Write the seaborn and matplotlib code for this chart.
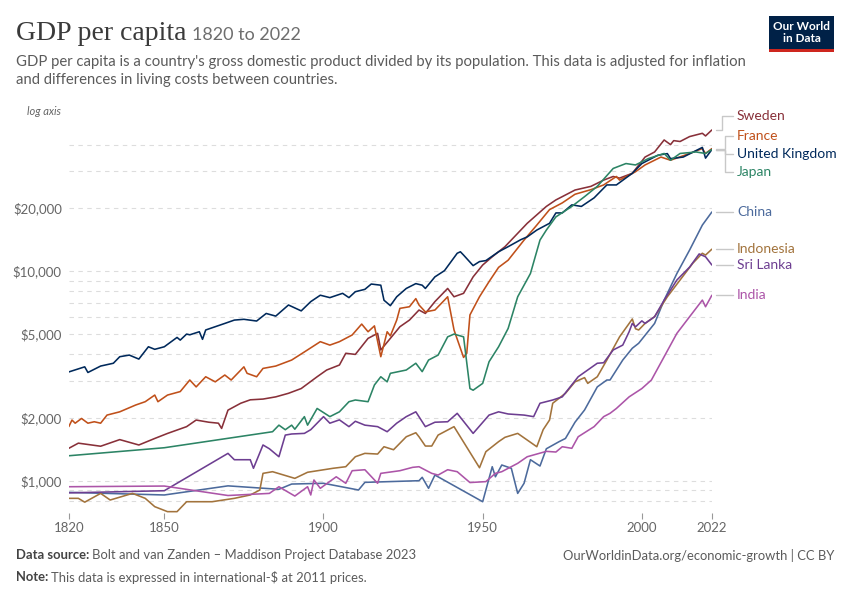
import matplotlib.pyplot as plt
import numpy as np
import pandas as pd
import seaborn as sns
from matplotlib.lines import Line2D
from matplotlib.patches import Rectangle
from matplotlib.ticker import NullFormatter

# --------------------------------------------------------------------------- #
# Data (GDP per capita, international-$ at 2011 prices)
# --------------------------------------------------------------------------- #
uk_years = [1820, 1825, 1826, 1830, 1834, 1836, 1839, 1842, 1845, 1847, 1850, 1854, 1855,
            1857, 1858, 1861, 1862, 1863, 1869, 1872, 1875, 1879, 1882, 1885, 1889, 1893,
            1896, 1899, 1902, 1906, 1908, 1910, 1913, 1915, 1918, 1919, 1921, 1923, 1926,
            1929, 1931, 1932, 1935, 1938, 1942, 1943, 1944, 1947, 1949, 1951, 1955, 1958,
            1962, 1964, 1967, 1971, 1973, 1975, 1978, 1981, 1985, 1989, 1992, 1997, 2000,
            2005, 2008, 2009, 2013, 2019, 2020, 2022]
uk_gdp = [3300, 3490, 3280, 3520, 3630, 3900, 3970, 3800, 4350, 4230, 4350, 4820, 4680,
          5000, 4960, 5130, 4720, 5230, 5620, 5830, 5880, 5770, 6270, 6090, 6880, 6450,
          7140, 7660, 7460, 7820, 7460, 7960, 8170, 8660, 8550, 7250, 6830, 7530, 8250,
          8700, 8550, 8250, 9370, 10030, 12140, 12340, 11900, 10600, 11080, 11200, 12340, 13050,
          14100, 14530, 15660, 16870, 18900, 18900, 20650, 20300, 22300, 25700, 25700, 29200, 32500,
          35600, 36250, 34300, 34900, 38800, 34500, 37900]

france_years = [1820, 1821, 1822, 1824, 1826, 1828, 1830, 1832, 1836, 1841, 1844, 1847, 1848,
                1851, 1855, 1858, 1860, 1863, 1866, 1869, 1871, 1875, 1876, 1879, 1881, 1885,
                1890, 1894, 1899, 1902, 1905, 1909, 1912, 1914, 1916, 1918, 1920, 1921, 1923,
                1924, 1927, 1929, 1930, 1932, 1935, 1938, 1939, 1941, 1944, 1945, 1946, 1949,
                1952, 1955, 1958, 1963, 1967, 1971, 1975, 1979, 1984, 1988, 1992, 1993, 1998,
                2001, 2006, 2009, 2015, 2019, 2020, 2022]
france_gdp = [1810, 1946, 1880, 1980, 1880, 1910, 1880, 2055, 2130, 2295, 2380, 2560, 2380,
              2560, 2660, 3020, 2800, 3130, 2960, 3190, 3020, 3490, 3250, 3130, 3430, 3520,
              3760, 4110, 4600, 4430, 4600, 4950, 5580, 5130, 5470, 3900, 5130, 4900, 5830,
              6630, 6750, 7380, 6880, 6380, 6510, 7260, 7530, 5230, 3870, 4050, 6170, 7530,
              8890, 10400, 11250, 14030, 16540, 19600, 21100, 23200, 24400, 25700, 28200, 27100, 29700,
              32000, 34900, 33700, 36300, 38300, 36300, 38300]

sweden_years = [1820, 1823, 1830, 1836, 1842, 1847, 1851, 1857, 1860, 1864, 1867, 1868, 1870,
                1874, 1877, 1881, 1885, 1889, 1893, 1898, 1901, 1905, 1907, 1910, 1914, 1917,
                1918, 1921, 1924, 1927, 1930, 1932, 1935, 1939, 1941, 1944, 1947, 1950, 1953,
                1957, 1964, 1970, 1973, 1975, 1979, 1984, 1988, 1991, 1993, 1997, 2001, 2004,
                2007, 2009, 2010, 2012, 2015, 2019, 2020, 2022]
sweden_gdp = [1427, 1510, 1460, 1570, 1480, 1590, 1680, 1810, 1946, 1900, 1880, 1775, 2170,
              2340, 2430, 2450, 2510, 2610, 2750, 3130, 3370, 3560, 4050, 4000, 4770, 5040,
              4200, 4770, 5420, 5830, 6510, 6270, 7140, 8250, 7530, 7820, 9370, 10670, 11680,
              13050, 16870, 20300, 21800, 22600, 24300, 25300, 27100, 28200, 27700, 29200, 34900, 36900,
              42100, 40000, 41800, 41400, 43700, 45300, 44000, 47000]

japan_years = [1820, 1850, 1884, 1886, 1888, 1890, 1891, 1894, 1895, 1898, 1902, 1905, 1908,
               1910, 1914, 1916, 1918, 1920, 1921, 1926, 1929, 1931, 1933, 1936, 1939, 1941,
               1944, 1946, 1947, 1950, 1952, 1955, 1958, 1961, 1965, 1968, 1970, 1973, 1978,
               1982, 1986, 1991, 1995, 1998, 2002, 2007, 2009, 2012, 2017, 2020, 2022]
japan_gdp = [1315, 1436, 1712, 1840, 1750, 1840, 1760, 2020, 1840, 2210, 2020, 2130, 2380,
             2425, 2380, 2860, 3130, 2960, 3250, 3370, 3630, 3310, 3760, 3970, 4850, 5000,
             4850, 2750, 2700, 2910, 3690, 4350, 5320, 7530, 9720, 14030, 15660, 18100, 20300,
             22600, 25300, 30800, 32500, 32000, 34300, 36300, 33700, 36300, 36900, 36300, 37900]

china_years = [1820, 1850, 1870, 1886, 1890, 1900, 1911, 1913, 1930, 1931, 1933, 1935, 1950,
               1953, 1954, 1956, 1959, 1961, 1963, 1965, 1968, 1970, 1974, 1976, 1979, 1982,
               1986, 1989, 1990, 1994, 1997, 1999, 2004, 2007, 2011, 2015, 2019, 2022]
china_gdp = [880, 855, 945, 910, 964, 972, 903, 982, 1000, 1038, 920, 1064, 794,
             1166, 1044, 1188, 1146, 870, 972, 1259, 1175, 1420, 1535, 1590, 1900, 2173,
             2800, 3020, 3020, 3760, 4280, 4520, 5620, 7260, 9720, 12580, 16540, 19100]

indonesia_years = [1820, 1823, 1825, 1830, 1833, 1840, 1844, 1847, 1851, 1854, 1857, 1865,
                   1872, 1877, 1880, 1881, 1884, 1891, 1895, 1903, 1907, 1910, 1913, 1917,
                   1919, 1922, 1926, 1929, 1930, 1932, 1934, 1936, 1941, 1949, 1951, 1955,
                   1957, 1961, 1967, 1969, 1971, 1972, 1976, 1979, 1982, 1983, 1986, 1989,
                   1993, 1997, 1998, 1999, 2001, 2004, 2008, 2012, 2016, 2019, 2020, 2022]
indonesia_gdp = [824, 824, 790, 870, 809, 870, 824, 752, 712, 712, 794, 794,
                 824, 855, 903, 1084, 1104, 1026, 1097, 1146, 1166, 1301, 1350, 1340,
                 1452, 1405, 1620, 1693, 1620, 1463, 1463, 1650, 1810, 1153, 1375, 1535,
                 1610, 1681, 1452, 1751, 1946, 2340, 2610, 2960, 3100, 2910, 3130, 3760,
                 4850, 5900, 5300, 5230, 5620, 6050, 7530, 9050, 10880, 12140, 11900, 12700]

srilanka_years = [1820, 1850, 1870, 1872, 1877, 1878, 1881, 1883, 1886, 1888, 1890, 1894,
                  1896, 1900, 1902, 1905, 1908, 1910, 1913, 1917, 1920, 1923, 1926, 1929,
                  1932, 1935, 1939, 1942, 1947, 1952, 1955, 1958, 1963, 1966, 1968, 1972,
                  1975, 1980, 1986, 1988, 1991, 1994, 1996, 1997, 1998, 2000, 2001, 2004,
                  2007, 2011, 2015, 2018, 2020, 2022]
srilanka_gdp = [875, 896, 1350, 1259, 1259, 1146, 1480, 1420, 1301, 1650, 1670, 1681,
                1751, 2020, 1880, 1950, 1810, 1920, 1840, 1810, 1712, 1880, 2020, 2130,
                1810, 1900, 1910, 2095, 1681, 2055, 2130, 2080, 2055, 2020, 2340, 2425,
                2510, 3130, 3630, 3650, 4200, 4430, 5130, 5620, 5410, 5780, 5620, 6050,
                7260, 9050, 10430, 12050, 11680, 10670]

india_years = [1820, 1850, 1870, 1883, 1886, 1889, 1891, 1895, 1896, 1897, 1899, 1904,
               1907, 1909, 1913, 1917, 1918, 1924, 1928, 1930, 1934, 1936, 1939, 1942,
               1946, 1951, 1954, 1956, 1961, 1964, 1970, 1973, 1975, 1978, 1980, 1985,
               1988, 1990, 1992, 1996, 2000, 2003, 2007, 2011, 2015, 2019, 2020, 2022]
india_gdp = [936, 943, 850, 870, 936, 880, 845, 936, 855, 1008, 920, 1044,
             972, 1116, 1128, 972, 1084, 1116, 1158, 1166, 1084, 1064, 1128, 1104,
             980, 990, 1084, 1104, 1210, 1301, 1380, 1370, 1452, 1427, 1620, 1810,
             2020, 2095, 2210, 2510, 2750, 3020, 3900, 5040, 6050, 7260, 6750, 7660]

SERIES = {
    "Sweden": (sweden_years, sweden_gdp),
    "France": (france_years, france_gdp),
    "United Kingdom": (uk_years, uk_gdp),
    "Japan": (japan_years, japan_gdp),
    "China": (china_years, china_gdp),
    "Indonesia": (indonesia_years, indonesia_gdp),
    "Sri Lanka": (srilanka_years, srilanka_gdp),
    "India": (india_years, india_gdp),
}

COLORS = {
    "Sweden": "#883039",
    "France": "#C0501A",
    "United Kingdom": "#00295B",
    "Japan": "#2C8465",
    "China": "#4C6A9C",
    "Indonesia": "#A2733C",
    "Sri Lanka": "#6D3E91",
    "India": "#AC55A8",
}

# label nudges (pixels up) and where the connector bends (pixels right)
LABEL_DY = {"Sweden": 14, "France": 13, "United Kingdom": -4, "Japan": -22}
BEND_X = {"Sweden": 10, "France": 13, "United Kingdom": 13, "Japan": 13}

Y_MAJOR = [1000, 2000, 5000, 10000, 20000]
Y_MINOR = [800, 900, 3000, 4000, 6000, 7000, 8000, 9000, 30000, 40000]
X_TICKS = [1820, 1850, 1900, 1950, 2000, 2022]

GREY_TEXT = "#5b5b5b"
W, H = 850, 600

sns.set_theme(style="white")
plt.rcParams["font.family"] = ["Lato", "DejaVu Sans"]

df = pd.concat([pd.DataFrame({"year": y, "gdp": v, "country": c})
                for c, (y, v) in SERIES.items()], ignore_index=True)

fig = plt.figure(figsize=(W / 100, H / 100), dpi=100)
ax = fig.add_axes([68.8 / W, 1 - 513.2 / H, (711.9 - 68.8) / W, (513.2 - 124.3) / H])

sns.lineplot(data=df, x="year", y="gdp", hue="country", palette=COLORS,
             estimator=None, linewidth=1.15, legend=False, ax=ax)

ax.set_yscale("log")
ax.set_xlim(1820, 2022)
ax.set_ylim(700, 50000)
ax.set_yticks(Y_MAJOR)
ax.set_yticklabels([f"${v:,}" for v in Y_MAJOR])
ax.set_yticks(Y_MINOR, minor=True)
ax.yaxis.set_minor_formatter(NullFormatter())
ax.set_xticks(X_TICKS)
ax.set_xticklabels([str(t) for t in X_TICKS])
ax.set_xlabel("")
ax.set_ylabel("")
for s in ax.spines.values():
    s.set_visible(False)
ax.grid(False)
ax.grid(True, axis="y", which="both", color="#dddddd", linestyle=(0, (4, 4)), linewidth=0.8)
ax.tick_params(axis="y", which="both", length=0, labelsize=9.5, labelcolor="#666666", pad=5)
ax.tick_params(axis="x", which="major", length=4, width=0.8, color="#999999",
               labelsize=9.5, labelcolor="#666666", pad=2, bottom=True)
ax.tick_params(axis="x", which="minor", length=0)

# end-of-line labels with light connectors
to_fig = fig.transFigure.inverted()
for country, (yrs, vals) in SERIES.items():
    px, py = ax.transData.transform((yrs[-1], vals[-1]))
    dy = LABEL_DY.get(country, 0)
    if dy:
        bx = BEND_X[country]
        pts = [(4, 0), (bx, 0), (bx, dy), (21, dy)]
    else:
        pts = [(4, 0), (21, 0)]
    xy = to_fig.transform([(px + a, py + b) for a, b in pts])
    fig.add_artist(Line2D(xy[:, 0], xy[:, 1], transform=fig.transFigure,
                          color="#c8c8c8", linewidth=1.0))
    lx, ly = to_fig.transform((px + 25, py + dy))
    fig.text(lx, ly, country, color=COLORS[country], fontsize=10, va="center", ha="left")

# header
title = fig.text(16 / W, 1 - 40 / H, "GDP per capita", family=["Liberation Serif", "DejaVu Serif"],
                 fontsize=20, color="#3a3a3a", va="baseline")
fig.canvas.draw()
bb = title.get_window_extent()
fig.text((bb.x1 + 6) / W, 1 - 40 / H, "1820 to 2022", fontsize=13, color="#6e6e6e", va="baseline")
fig.text(16 / W, 1 - 62 / H, "GDP per capita is a country's gross domestic product divided by its "
         "population. This data is adjusted for inflation", fontsize=10.75, color=GREY_TEXT, va="center")
fig.text(16 / W, 1 - 80 / H, "and differences in living costs between countries.",
         fontsize=10.75, color=GREY_TEXT, va="center")
fig.text(27 / W, 1 - 111 / H, "log axis", fontsize=8, style="italic", color="#666666", va="center")

# logo
fig.add_artist(Rectangle((769 / W, 1 - 49 / H), 65 / W, 33 / H, transform=fig.transFigure,
                         facecolor="#002147", edgecolor="none"))
fig.add_artist(Rectangle((769 / W, 1 - 52 / H), 65 / W, 3 / H, transform=fig.transFigure,
                         facecolor="#CE261E", edgecolor="none"))
fig.text(801.5 / W, 1 - 32.5 / H, "Our World\nin Data", color="white", fontsize=8.5,
         ha="center", va="center", linespacing=1.05, weight="bold")

# footer
src = fig.text(16 / W, 1 - 555 / H, "Data source:", fontsize=9.4, color="#444444",
               weight="bold", va="center")
fig.canvas.draw()
bb = src.get_window_extent()
fig.text((bb.x1 + 3) / W, 1 - 555 / H, "Bolt and van Zanden – Maddison Project Database 2023",
         fontsize=9.4, color=GREY_TEXT, va="center")
note = fig.text(16 / W, 1 - 577 / H, "Note:", fontsize=9.4, color="#444444", weight="bold", va="center")
fig.canvas.draw()
bb = note.get_window_extent()
fig.text((bb.x1 + 3) / W, 1 - 577 / H, "This data is expressed in international-$ at 2011 prices.",
         fontsize=9.4, color=GREY_TEXT, va="center")
fig.text(834 / W, 1 - 555 / H, "OurWorldinData.org/economic-growth | CC BY", fontsize=9.4,
         color=GREY_TEXT, ha="right", va="center")

fig.savefig("out.png", dpi=100)
